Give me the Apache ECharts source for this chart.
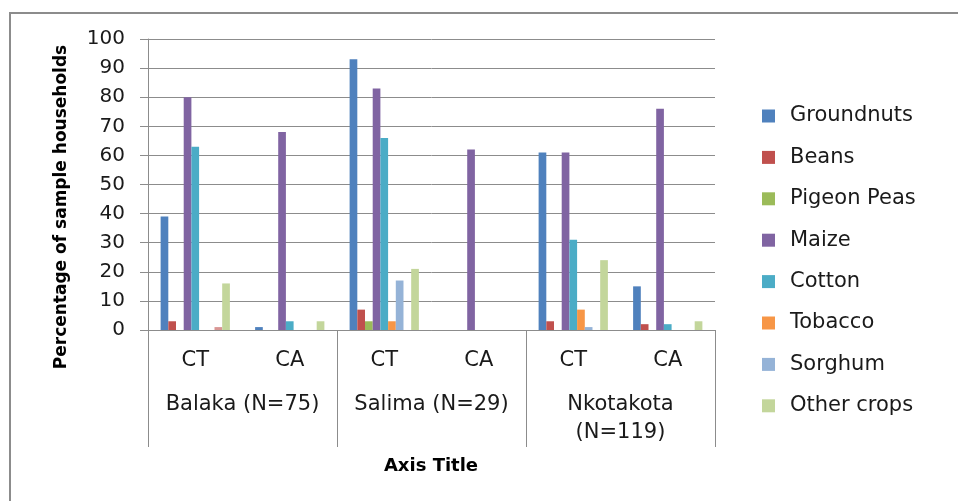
<!DOCTYPE html>
<html>
<head>
<meta charset="utf-8">
<script src="https://cdn.jsdelivr.net/npm/echarts@6/dist/echarts.min.js"></script>
<style>
  html, body { margin: 0; padding: 0; background: #fff; }
  #chart { width: 958px; height: 501px; }
</style>
</head>
<body>
<div id="chart"></div>
<script>
// Practice type per district (first row of the category axis)
const practices = ['CT', 'CA', 'CT', 'CA', 'CT', 'CA'];
// District groups (second row of the category axis)
const districts = ['Balaka (N=75)', 'Salima (N=29)', 'Nkotakota\n(N=119)'];

// Percentage of sample households growing each crop
const groundnuts = [39, 1, 93, 0, 61, 15];
const beans      = [3, 0, 7, 0, 3, 2];
const pigeonPeas = [0, 0, 3, 0, 0, 0];
const maize      = [80, 68, 83, 62, 61, 76];
const cotton     = [63, 3, 66, 0, 31, 2];
const tobacco    = [0, 0, 3, 0, 7, 0];
const sorghum    = [0, 0, 17, 0, 1, 0];
const unlisted   = [1, 0, 0, 0, 0, 0];
const otherCrops = [16, 3, 21, 0, 24, 3];

const seriesDefs = [
  { name: 'Groundnuts',  data: groundnuts, color: '#4F81BD' },
  { name: 'Beans',       data: beans,      color: '#C0504D' },
  { name: 'Pigeon Peas', data: pigeonPeas, color: '#9BBB59' },
  { name: 'Maize',       data: maize,      color: '#8064A2' },
  { name: 'Cotton',      data: cotton,     color: '#4BACC6' },
  { name: 'Tobacco',     data: tobacco,    color: '#F79646' },
  { name: 'Sorghum',     data: sorghum,    color: '#95B3D7' },
  { name: 'Unlisted',    data: unlisted,   color: '#D99694' },
  { name: 'Other crops', data: otherCrops, color: '#C3D69B' }
];
const legendNames = ['Groundnuts', 'Beans', 'Pigeon Peas', 'Maize', 'Cotton', 'Tobacco', 'Sorghum', 'Other crops'];

const FONT = 'DejaVu Sans';
const gridLine = '#8c8c8c';

const chart = echarts.init(document.getElementById('chart'), null, { renderer: 'canvas' });

chart.setOption({
  animation: false,
  backgroundColor: '#fff',
  grid: { left: 148, right: 243, top: 39, bottom: 171, containLabel: false },
  legend: {
    data: legendNames,
    orient: 'vertical',
    left: 757,
    top: 100,
    icon: 'rect',
    itemWidth: 13,
    itemHeight: 13,
    itemGap: 19.4,
    textStyle: { fontFamily: FONT, fontSize: 21, color: '#1a1a1a', lineHeight: 22, padding: [0, 0, 0, 10] }
  },
  xAxis: [
    {
      type: 'category',
      data: practices,
      position: 'bottom',
      axisLine: { show: true, lineStyle: { color: gridLine, width: 1 } },
      axisTick: { show: false },
      axisLabel: { interval: 0, margin: 20, fontFamily: FONT, fontSize: 21, color: '#1a1a1a' },
      splitLine: { show: false }
    },
    {
      type: 'category',
      data: districts,
      position: 'bottom',
      boundaryGap: true,
      axisLine: { show: false },
      axisTick: { show: true, interval: 0, length: 117, lineStyle: { color: gridLine, width: 1 } },
      axisLabel: { interval: 0, margin: 61, fontFamily: FONT, fontSize: 21, lineHeight: 28, color: '#1a1a1a' },
      splitLine: { show: false }
    }
  ],
  yAxis: {
    type: 'value',
    min: 0,
    max: 100,
    interval: 10,
    axisLine: { show: true, lineStyle: { color: gridLine, width: 1 } },
    axisTick: { show: true, length: 8, lineStyle: { color: gridLine } },
    axisLabel: { margin: 23, fontFamily: FONT, fontSize: 20, color: '#1a1a1a' },
    splitLine: { show: true, lineStyle: { color: gridLine, width: 1 } }
  },
  series: seriesDefs.map(s => ({
    name: s.name,
    type: 'bar',
    xAxisIndex: 0,
    data: s.data,
    barGap: '0%',
    barCategoryGap: '26.7%',
    itemStyle: { color: s.color }
  })),
  graphic: [
    {
      type: 'rect',
      shape: { x: 10, y: 13, width: 1000, height: 600 },
      style: { fill: 'none', stroke: '#8c8c8c', lineWidth: 2 },
      silent: true
    },
    {
      type: 'text',
      x: 62,
      y: 207,
      rotation: Math.PI / 2,
      style: {
        text: 'Percentage of sample households',
        fontFamily: FONT, fontWeight: 'bold', fontSize: 17,
        fill: '#000', align: 'center', verticalAlign: 'middle'
      }
    },
    {
      type: 'text',
      x: 431,
      y: 466,
      style: {
        text: 'Axis Title',
        fontFamily: FONT, fontWeight: 'bold', fontSize: 18,
        fill: '#000', align: 'center', verticalAlign: 'middle'
      }
    }
  ]
});
</script>
</body>
</html>
